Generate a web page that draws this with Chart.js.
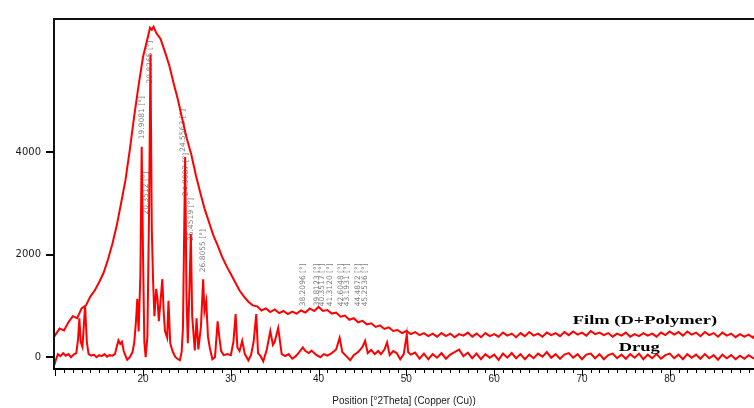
<!DOCTYPE html>
<html>
<head>
<meta charset="utf-8">
<script src="https://cdn.jsdelivr.net/npm/chart.js@4/dist/chart.umd.min.js"></script>
<style>
html,body{margin:0;padding:0;background:#fff;}
canvas{display:block;}
</style>
</head>
<body>
<canvas id="c" width="754" height="408"></canvas>
<script>
// ---- data (2-theta in degrees, intensity in counts) ----
const filmTheta = [9.9,
  10.0,10.5,11.0,11.5,12.0,12.5,13.0,13.5,14.0,14.5,15.0,15.5,16.0,16.5,17.0,17.5,18.0,18.5,19.0,19.5,20.0,20.5,
  20.8,21.0,21.2,
  21.5,22.0,22.5,23.0,23.5,24.0,24.5,25.0,25.5,26.0,26.5,27.0,27.5,28.0,28.5,29.0,29.5,30.0,30.5,31.0,31.5,32.0,32.5,
  33.0,33.5,34.0,34.5,35.0,35.5,36.0,36.5,37.0,37.5,38.0,38.5,39.0,39.5,40.0,40.5,41.0,41.5,42.0,42.5,43.0,43.5,44.0,44.5,45.0,45.5,46.0,46.5,47.0,47.5,48.0,48.5,49.0,49.5,50.0,50.5,51.0,51.5,52.0,52.5,53.0,
  53.5,54.0,54.5,55.0,55.5,56.0,56.5,57.0,57.5,58.0,
  58.5,59.0,59.5,60.0,60.5,61.0,61.5,62.0,62.5,63.0,
  63.5,64.0,64.5,65.0,65.5,66.0,66.5,67.0,67.5,68.0,
  68.5,69.0,69.5,70.0,70.5,71.0,71.5,72.0,72.5,73.0,
  73.5,74.0,74.5,75.0,75.5,76.0,76.5,77.0,77.5,78.0,
  78.5,79.0,79.5,80.0,80.5,81.0,81.5,82.0,82.5,83.0,
  83.5,84.0,84.5,85.0,85.5,86.0,86.5,87.0,87.5,88.0,
  88.5,89.0,89.5,89.6];
const filmCounts = [470,
  430,560,520,680,800,760,950,1010,1180,1300,1460,1640,1900,2200,2560,3000,3450,4050,4700,5300,5850,6200,
  6420,6380,6440,
  6320,6200,5950,5680,5330,5000,4620,4250,3950,3560,3220,2900,2640,2380,2180,1960,1780,1620,1460,1300,1180,1080,1010,
  990,910,950,880,930,860,900,840,890,850,910,870,950,900,980,900,920,850,870,790,810,730,760,680,710,640,660,590,620,550,580,510,530,470,510,450,490,430,470,410,460,
  400,470,410,460,390,450,420,480,400,460,
  390,470,410,450,400,480,420,460,390,470,
  410,490,420,460,400,480,430,470,410,490,
  430,500,440,480,420,510,450,480,430,470,
  400,460,420,480,400,450,410,470,420,460,
  400,480,430,500,440,490,420,500,440,480,
  410,490,430,470,400,480,420,460,390,450,
  400,440,380,420];

const drugTheta = [9.9,10.1,10.3,10.6,10.9,11.2,11.5,11.8,12.1,12.4,
  12.6,12.75,12.9,13.1,13.4,13.6,13.8,14.1,14.4,14.7,
  15.0,15.3,15.6,15.9,16.2,16.5,16.8,17.0,17.2,17.4,
  17.6,17.8,18.0,18.2,18.5,18.8,19.0,19.2,19.35,19.5,
  19.7,19.85,20.0,20.15,20.3,20.5,20.7,20.85,21.0,21.15,
  21.3,21.5,21.65,21.8,22.0,22.2,22.35,22.5,22.75,22.9,
  23.1,23.4,23.7,24.0,24.2,24.4,24.55,24.8,24.95,25.1,
  25.3,25.45,25.6,25.9,26.1,26.3,26.6,26.85,27.0,27.2,
  27.4,27.6,27.9,28.2,28.5,28.7,28.9,29.2,29.6,30.0,
  30.3,30.55,30.75,31.0,31.3,31.6,32.0,32.3,32.6,32.9,
  33.1,33.4,33.7,34.1,34.5,34.8,35.0,35.4,35.8,36.2,
  36.6,37.0,37.4,37.8,38.2,38.5,38.9,39.2,39.7,40.2,
  40.6,41.0,41.5,42.0,42.4,42.7,43.1,43.6,44.0,44.5,
  45.0,45.3,45.6,46.0,46.4,46.8,47.1,47.5,47.8,48.1,
  48.5,48.9,49.3,49.7,50.05,50.2,50.5,
  51.0,51.5,52.0,52.5,53.0,53.5,54.0,54.5,55.0,55.5,
  56.0,56.5,57.0,57.5,58.0,58.5,59.0,59.5,60.0,60.5,
  61.0,61.5,62.0,62.5,63.0,63.5,64.0,64.5,65.0,65.5,
  66.0,66.5,67.0,67.5,68.0,68.5,69.0,69.5,70.0,70.5,
  71.0,71.5,72.0,72.5,73.0,73.5,74.0,74.5,75.0,75.5,
  76.0,76.5,77.0,77.5,78.0,78.5,79.0,79.5,80.0,80.5,
  81.0,81.5,82.0,82.5,83.0,83.5,84.0,84.5,85.0,85.5,
  86.0,86.5,87.0,87.5,88.0,88.5,89.0,89.6];
const drugCounts = [-150,-40,60,20,80,30,60,0,50,80,
  350,760,300,200,990,300,60,30,50,0,
  40,20,60,10,40,30,60,200,330,260,
  300,120,30,-50,0,100,280,700,1140,500,
  1600,4100,2000,300,0,400,3000,5900,2500,1470,
  800,1330,1140,700,1100,1520,900,510,380,1100,
  270,100,0,-40,-60,100,570,3900,1200,270,
  1400,2400,800,130,760,150,600,1520,900,1090,
  400,190,-40,0,700,380,120,40,60,40,
  300,840,190,120,320,60,-60,40,300,840,
  80,20,-80,150,510,240,300,570,60,20,
  60,-30,20,100,190,120,80,130,50,0,
  60,30,80,150,380,100,30,-60,40,100,
  200,320,80,140,60,120,60,150,290,40,
  120,80,-40,60,440,100,50,
  90,-30,70,-40,60,-10,80,-30,50,100,
  150,20,90,-20,70,-40,60,-10,50,-50,
  70,-10,80,-20,60,-40,50,-20,70,10,
  100,-10,60,-30,50,80,-10,60,-40,50,
  70,-20,60,-40,40,70,-20,50,-30,60,
  -10,70,-40,50,-20,60,-30,40,70,-20,
  50,-40,60,-10,50,-30,60,-20,40,-50,
  50,-20,40,-40,30,-30,40,-30];

// peak position labels (anchor in data units)
const peakLabelTheta  = [19.9, 20.8, 20.35, 24.55, 24.9, 25.45, 26.8, 38.2, 39.8, 40.35, 41.3, 42.6, 43.2, 44.5, 45.25];
const peakLabelCounts = [4667, 5753, 3200, 4420, 3562, 2686, 2076, 1410, 1410, 1410, 1410, 1410, 1410, 1410, 1410];
const peakLabelText   = ["19.9081 [°]","20.8265 [°]","20.3512 [°]","24.5563 [°]","24.9087 [°]","25.4519 [°]","26.8055 [°]","38.2096 [°]","39.8123 [°]","40.3517 [°]","41.3120 [°]","42.6048 [°]","43.1931 [°]","44.4872 [°]","45.2536 [°]"];

const seriesNames  = ["Film (D+Polymer)", "Drug"];
const seriesLabelTheta  = [68.96, 74.19];
const seriesLabelCounts = [648, 114];

const xTickLabels = [20, 30, 40, 50, 60, 70, 80];
const yTickValues = [0, 2000, 4000];

// ---- chart ----
const RED = '#ff0000';
const toPts = (xs, ys) => xs.map((t, i) => ({x: t, y: ys[i]}));

const decorPlugin = {
  id: 'decor',
  beforeDatasetsDraw(chart) {
    const {ctx, scales: {x, y}} = chart;
    ctx.save();
    ctx.fillStyle = '#808080';
    ctx.font = '7.5px "DejaVu Sans"';
    ctx.textAlign = 'center';
    ctx.textBaseline = 'middle';
    peakLabelText.forEach((t, i) => {
      const px = x.getPixelForValue(peakLabelTheta[i]);
      const py = y.getPixelForValue(peakLabelCounts[i]);
      ctx.save();
      ctx.translate(px, py);
      ctx.rotate(-Math.PI / 2);
      ctx.fillText(t, 0, 0);
      ctx.restore();
    });
    ctx.restore();
  },
  afterDraw(chart) {
    const {ctx, chartArea: a, scales: {x, y}} = chart;
    ctx.save();
    // frame
    ctx.strokeStyle = '#111';
    ctx.lineWidth = 2;
    ctx.beginPath();
    ctx.moveTo(a.left - 1, a.top); ctx.lineTo(a.right + 2, a.top);
    ctx.moveTo(a.left, a.top); ctx.lineTo(a.left, a.bottom + 1);
    ctx.stroke();
    ctx.strokeStyle = '#000';
    ctx.beginPath();
    ctx.moveTo(a.left - 1, a.bottom); ctx.lineTo(a.right + 2, a.bottom);
    ctx.stroke();
    // x tick marks: minor every degree, major every 10
    ctx.lineWidth = 1;
    for (let v = 10; v <= 89; v++) {
      const px = Math.round(x.getPixelForValue(v)) + 0.5;
      const len = v % 10 === 0 ? 7 : 4;
      ctx.beginPath();
      ctx.moveTo(px, a.bottom); ctx.lineTo(px, a.bottom + len);
      ctx.stroke();
    }
    // y tick marks
    ctx.lineWidth = 2;
    yTickValues.forEach(v => {
      const py = Math.round(y.getPixelForValue(v));
      ctx.beginPath();
      ctx.moveTo(a.left - 8, py); ctx.lineTo(a.left, py);
      ctx.stroke();
    });
    // series labels
    ctx.fillStyle = '#000';
    ctx.font = 'bold 13px "Liberation Serif"';
    ctx.textAlign = 'left';
    ctx.textBaseline = 'alphabetic';
    seriesNames.forEach((t, i) => {
      const px = x.getPixelForValue(seriesLabelTheta[i]);
      const py = y.getPixelForValue(seriesLabelCounts[i]);
      ctx.save();
      ctx.translate(px, py);
      ctx.scale(1.42, 1);
      ctx.fillText(t, 0, 0);
      ctx.restore();
    });
    ctx.restore();
  }
};

new Chart(document.getElementById('c'), {
  type: 'scatter',
  data: {
    datasets: [
      {label: seriesNames[0], data: toPts(filmTheta, filmCounts), showLine: true, borderColor: RED, borderWidth: 2, pointRadius: 0, tension: 0},
      {label: seriesNames[1], data: toPts(drugTheta, drugCounts), showLine: true, borderColor: RED, borderWidth: 2, pointRadius: 0, tension: 0}
    ]
  },
  options: {
    responsive: false,
    animation: false,
    devicePixelRatio: 1,
    layout: {padding: {top: 11, right: 0, bottom: 0, left: 0}},
    plugins: {legend: {display: false}, tooltip: {enabled: false}},
    scales: {
      x: {
        type: 'linear',
        min: 9.86, max: 89.6,
        grid: {display: false, drawTicks: false},
        border: {display: false},
        afterBuildTicks: s => { s.ticks = xTickLabels.map(v => ({value: v})); },
        afterFit: s => { s.height = 39; },
        ticks: {autoSkip: false, maxRotation: 0, padding: 4, color: '#1a1a1a', font: {family: '"Liberation Sans"', size: 10}, callback: v => String(v)},
        title: {display: true, text: 'Position [°2Theta] (Copper (Cu))', color: '#1a1a1a', padding: {top: 0, bottom: 1}, font: {family: '"Liberation Sans"', size: 10}}
      },
      y: {
        type: 'linear',
        min: -230, max: 6590,
        grid: {display: false, drawTicks: false},
        border: {display: false},
        afterBuildTicks: s => { s.ticks = yTickValues.map(v => ({value: v})); },
        afterFit: s => { s.width = 54; },
        ticks: {padding: 13, color: '#1a1a1a', font: {family: '"DejaVu Sans"', size: 10}, callback: v => String(v)}
      }
    }
  },
  plugins: [decorPlugin]
});
</script>
</body>
</html>
